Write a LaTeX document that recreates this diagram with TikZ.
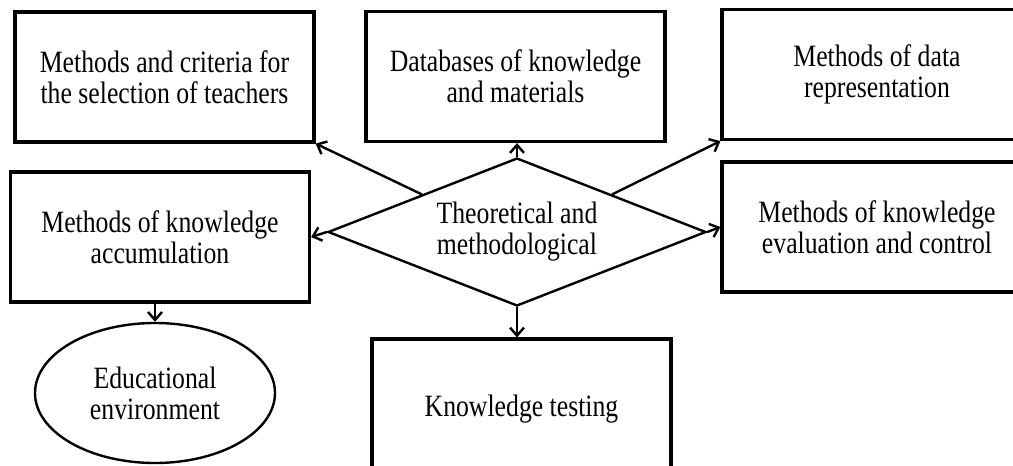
\documentclass[tikz,border=0pt]{standalone}
\usepackage{fontspec}
\setmainfont[FakeStretch=0.83]{Liberation Serif}
\usetikzlibrary{arrows.meta,positioning,shapes.geometric}

\begin{document}
\begin{tikzpicture}[
        x=0.5pt, y=-0.5pt,
        every node/.style={color=black, font=\fontsize{15.5}{15.5}\selectfont, align=center},
        block/.style={draw, line width=1.6pt, minimum width=149.5pt, minimum height=65pt, inner sep=0pt},
        env/.style={draw, ellipse, line width=1.2pt, minimum width=120pt, minimum height=70pt, inner sep=0pt},
        core/.style={draw, diamond, aspect=2.55, line width=1.2pt, minimum width=189pt, minimum height=74pt, inner sep=0pt},
        arr/.style={line width=1.2pt, -{Straight Barb[length=4pt,width=7pt]}},
    ]
    \useasboundingbox (0,0) rectangle (1013,466);
    % center
    \node[core] (theory) at (517,232) {Theoretical and\\methodological};
    % boxes round it
    \node[block] (teachers) at (164.5,77) {Methods and criteria for\\the selection of teachers};
    \node[block] (database) at (515.5,76.5) {Databases of knowledge\\and materials};
    \node[block, minimum width=155pt] (represent) at (877,74.5) {Methods of data\\representation};
    \node[block, minimum width=155pt] (evaluate) at (877,227) {Methods of knowledge\\evaluation and control};
    \node[block] (accum) at (160,237) {Methods of knowledge\\accumulation};
    \node[block, minimum height=70.5pt] (testing) at (521.5,409.5) {Knowledge testing};
    \node[env] (environ) at (155,393) {Educational\\environment};
    % arrows
    \draw[arr] (theory.north) -- (theory.north |- database.south);
    \draw[arr] (theory.north west) -- (teachers.south east);
    \draw[arr] (theory.north east) -- (represent.south west);
    \draw[arr] (theory.west) -- (accum.east);
    \draw[arr] (theory.east) -- (evaluate.west);
    \draw[arr] (theory.south) -- (theory.south |- testing.north);
    \draw[arr] (accum.south -| environ.north) -- (environ.north);
\end{tikzpicture}
\end{document}
